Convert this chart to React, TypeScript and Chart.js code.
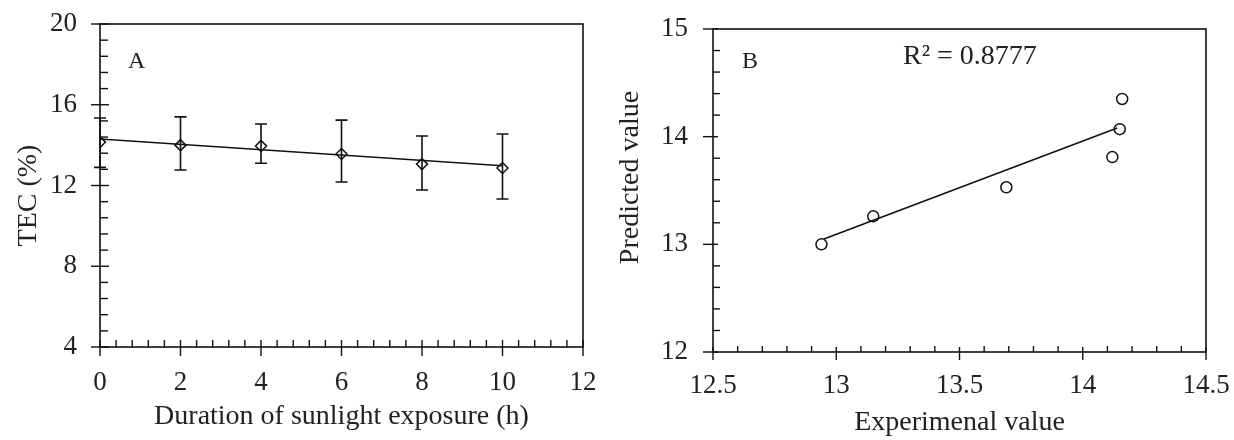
import React, { useEffect, useRef } from 'react';
import { Chart, registerables } from 'chart.js';
Chart.register(...registerables);

// ---------- Panel A data ----------
const hours = [0, 2, 4, 6, 8, 10];
const tecMean = [14.15, 14.0, 13.96, 13.56, 13.06, 12.87];
const tecLow = [12.9, 12.77, 13.1, 12.17, 11.78, 11.33];
const tecHigh = [15.34, 15.4, 15.05, 15.24, 14.45, 14.55];
const tecFitX = [0, 10];
const tecFitY = [14.3, 12.98];

// ---------- Panel B data ----------
const expValues = [12.94, 13.15, 13.69, 14.12, 14.15, 14.16];
const predValues = [13.0, 13.26, 13.53, 13.81, 14.07, 14.35];
const fitBX = [12.95, 14.14];
const fitBY = [13.05, 14.08];
const r2Label = 'R² = 0.8777';

const titleA_x = 'Duration of sunlight exposure (h)';
const titleA_y = 'TEC (%)';
const titleB_x = 'Experimenal value';
const titleB_y = 'Predicted value';

const FONT = "'Liberation Serif', 'Times New Roman', serif";
const TXT = '#222';
const INK = '#111';

const axisDecor = {
  id: 'axisDecor',
  afterDraw(chart: any, _args: any, opts: any) {
    const { ctx, chartArea: a, scales } = chart;
    ctx.save();
    ctx.strokeStyle = INK;
    ctx.lineWidth = 1.6;
    ctx.strokeRect(a.left, a.top, a.right - a.left, a.bottom - a.top);
    ctx.lineWidth = 1.4;
    const xs = scales.x, ys = scales.y;
    const near = (v: number, arr: number[]) => arr.some((t) => Math.abs(t - v) < 1e-6);
    // x axis
    const xMaj = xs.ticks.map((t: any) => t.value);
    const xo = opts.x;
    for (const v of xMaj) {
      const p = xs.getPixelForValue(v);
      ctx.beginPath(); ctx.moveTo(p, a.bottom - xo.majIn); ctx.lineTo(p, a.bottom + xo.majOut); ctx.stroke();
    }
    for (let i = 0; ; i++) {
      const v = +(xs.min + i * xo.minor).toFixed(6);
      if (v > xs.max + 1e-9) break;
      if (near(v, xMaj)) continue;
      const p = xs.getPixelForValue(v);
      ctx.beginPath(); ctx.moveTo(p, a.bottom - xo.minIn); ctx.lineTo(p, a.bottom); ctx.stroke();
    }
    // y axis
    const yMaj = ys.ticks.map((t: any) => t.value);
    const yo = opts.y;
    for (const v of yMaj) {
      const p = ys.getPixelForValue(v);
      ctx.beginPath(); ctx.moveTo(a.left - yo.majOut, p); ctx.lineTo(a.left + yo.majIn, p); ctx.stroke();
    }
    for (let i = 0; ; i++) {
      const v = +(ys.min + i * yo.minor).toFixed(6);
      if (v > ys.max + 1e-9) break;
      if (near(v, yMaj)) continue;
      const p = ys.getPixelForValue(v);
      ctx.beginPath(); ctx.moveTo(a.left, p); ctx.lineTo(a.left + yo.minIn, p); ctx.stroke();
    }
    // panel texts
    ctx.fillStyle = TXT;
    ctx.textBaseline = 'middle';
    ctx.textAlign = 'left';
    for (const t of opts.texts || []) {
      ctx.font = `${t.size}px ${FONT}`;
      ctx.fillText(t.text, a.left + t.dx, a.top + t.dy);
    }
    // rotated y title
    if (opts.yTitle) {
      const t = opts.yTitle;
      ctx.font = `${t.size}px ${FONT}`;
      ctx.textAlign = 'center';
      ctx.translate(t.x, (a.top + a.bottom) / 2 + t.dy);
      ctx.rotate(-Math.PI / 2);
      ctx.fillText(t.text, 0, 0);
    }
    ctx.restore();
  },
};

const errorBars = {
  id: 'errorBars',
  afterDatasetsDraw(chart: any, _args: any, opts: any) {
    if (!opts || !opts.low) return;
    const { ctx, scales } = chart;
    ctx.save();
    ctx.strokeStyle = INK;
    ctx.lineWidth = 1.6;
    opts.xs.forEach((xv: number, i: number) => {
      const px = scales.x.getPixelForValue(xv);
      const lo = scales.y.getPixelForValue(opts.low[i]);
      const hi = scales.y.getPixelForValue(opts.high[i]);
      ctx.beginPath();
      ctx.moveTo(px, lo); ctx.lineTo(px, hi);
      ctx.moveTo(px - opts.cap, lo); ctx.lineTo(px + opts.cap, lo);
      ctx.moveTo(px - opts.cap, hi); ctx.lineTo(px + opts.cap, hi);
      ctx.stroke();
    });
    ctx.restore();
  },
};

const zeroPad = (s: any) => {
  s.paddingLeft = 0; s.paddingRight = 0; s.paddingTop = 0; s.paddingBottom = 0;
};

function makeScales(p: any) {
  return {
    x: {
      type: 'linear',
      min: p.xMin, max: p.xMax,
      afterFit: (s: any) => { s.height = p.xHeight; zeroPad(s); },
      grid: { display: false, drawTicks: false },
      border: { display: false },
      ticks: {
        stepSize: p.xStep, padding: p.xPad, color: TXT, font: { family: FONT, size: 27 },
        callback: (v: any) => String(+(+v).toFixed(3)),
      },
      title: { display: true, text: p.xTitle, color: TXT, font: { family: FONT, size: 28 }, padding: { top: 0, bottom: p.xTitlePad } },
    },
    y: {
      type: 'linear',
      min: p.yMin, max: p.yMax,
      afterFit: (s: any) => { s.width = p.yWidth; zeroPad(s); },
      grid: { display: false, drawTicks: false },
      border: { display: false },
      ticks: {
        stepSize: p.yStep, padding: p.yPad, color: TXT, font: { family: FONT, size: 27 },
        callback: (v: any) => String(+(+v).toFixed(3)),
      },
      title: { display: false },
    },
  };
}

function ChartA() {
  const ref = useRef<HTMLCanvasElement>(null);
  useEffect(() => {
    const chart = new Chart(ref.current!, {
      type: 'scatter',
      data: {
        datasets: [
          {
            type: 'line',
            data: tecFitX.map((x, i) => ({ x, y: tecFitY[i] })),
            borderColor: INK, borderWidth: 1.6, pointRadius: 0, fill: false,
          } as any,
          {
            data: hours.map((x, i) => ({ x, y: tecMean[i] })),
            pointStyle: 'rectRot', pointRadius: 5.5, borderColor: INK, borderWidth: 1.5,
            backgroundColor: 'rgba(0,0,0,0)',
          },
        ],
      },
      options: {
        responsive: false,
        animation: false,
        events: [],
        layout: { padding: { left: 0, top: 24, right: 17, bottom: 0 } },
        plugins: {
          legend: { display: false },
          tooltip: { enabled: false },
          axisDecor: {
            x: { majIn: 7, majOut: 9, minor: 0.4, minIn: 7 },
            y: { majIn: 9, majOut: 9, minor: 0.8, minIn: 8 },
            texts: [{ text: 'A', dx: 28, dy: 38, size: 24 }],
            yTitle: { text: titleA_y, x: 29, dy: 10, size: 28 },
          },
          errorBars: { xs: hours, low: tecLow, high: tecHigh, cap: 6 },
        } as any,
        scales: makeScales({
          xMin: 0, xMax: 12, xStep: 2, xHeight: 93, xPad: 20, xTitle: titleA_x, xTitlePad: 7,
          yMin: 4, yMax: 20, yStep: 4, yWidth: 100, yPad: 23,
        }) as any,
      },
      plugins: [axisDecor, errorBars],
    });
    return () => chart.destroy();
  }, []);
  return <canvas ref={ref} width={600} height={440} style={{ display: 'block' }} />;
}

function ChartB() {
  const ref = useRef<HTMLCanvasElement>(null);
  useEffect(() => {
    const chart = new Chart(ref.current!, {
      type: 'scatter',
      data: {
        datasets: [
          {
            type: 'line',
            data: fitBX.map((x, i) => ({ x, y: fitBY[i] })),
            borderColor: INK, borderWidth: 1.6, pointRadius: 0, fill: false,
          } as any,
          {
            data: expValues.map((x, i) => ({ x, y: predValues[i] })),
            pointStyle: 'circle', pointRadius: 5.5, borderColor: INK, borderWidth: 1.5,
            backgroundColor: 'rgba(0,0,0,0)',
          },
        ],
      },
      options: {
        responsive: false,
        animation: false,
        events: [],
        layout: { padding: { left: 0, top: 29, right: 28, bottom: 0 } },
        plugins: {
          legend: { display: false },
          tooltip: { enabled: false },
          axisDecor: {
            x: { majIn: 5, majOut: 8, minor: 0.1, minIn: 6 },
            y: { majIn: 5, majOut: 10, minor: 0.2, minIn: 7 },
            texts: [
              { text: 'B', dx: 29, dy: 33, size: 24 },
              { text: r2Label, dx: 190, dy: 28, size: 28 },
            ],
            yTitle: { text: titleB_y, x: 31, dy: -13, size: 28 },
          },
        } as any,
        scales: makeScales({
          xMin: 12.5, xMax: 14.5, xStep: 0.5, xHeight: 88, xPad: 18, xTitle: titleB_x, xTitlePad: 1,
          yMin: 12, yMax: 15, yStep: 1, yWidth: 113, yPad: 25,
        }) as any,
      },
      plugins: [axisDecor],
    });
    return () => chart.destroy();
  }, []);
  return <canvas ref={ref} width={634} height={440} style={{ display: 'block' }} />;
}

export default function App() {
  return (
    <div style={{ position: 'absolute', left: 0, top: 0, width: 1234, height: 440, display: 'flex', background: '#fff' }}>
      <ChartA />
      <ChartB />
    </div>
  );
}
